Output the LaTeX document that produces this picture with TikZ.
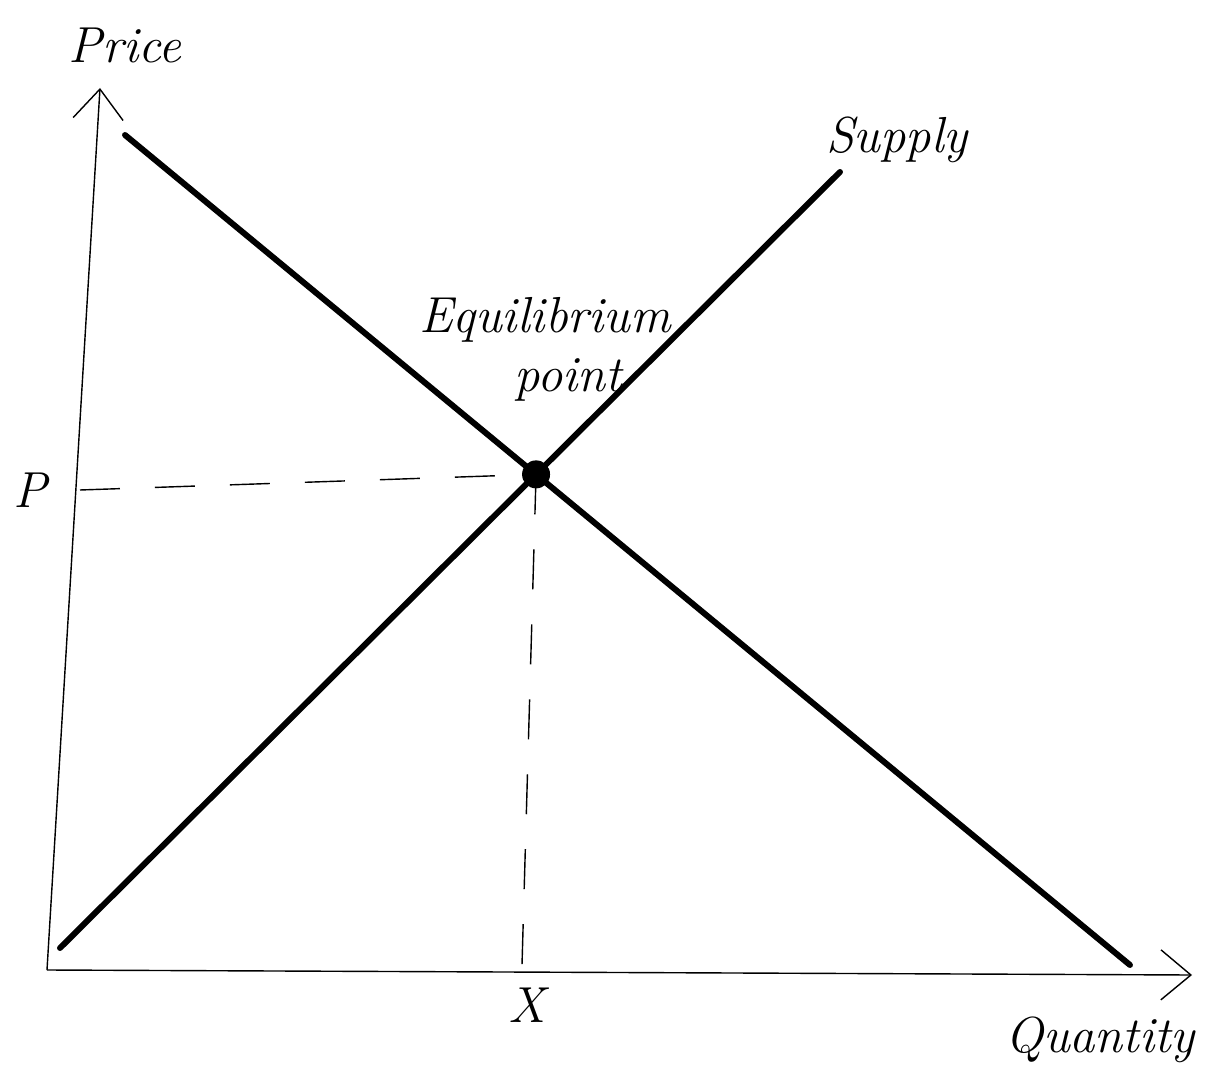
\documentclass[tikz,border=0pt]{standalone}
\usepackage{xcolor}
\usepackage{tikz}
\usetikzlibrary{arrows.meta,positioning,calc}

\begin{document}
\begin{tikzpicture}[
    every node/.style={font=\Large\itshape},
    axis/.style={-{Straight Barb[length=3mm,width=5mm]}, thin},
    curve/.style={line width=1.7pt, line cap=round},
    guide/.style={thin, dash pattern=on 4mm off 3.5mm},
    eqdot/.style={circle, fill=black, inner sep=0pt, minimum size=2.8mm}
]
  \useasboundingbox (0,0) rectangle (12.18,10.73);

  % axes
  \coordinate (o)    at (0.47, 1.03);
  \coordinate (ytop) at (1.00, 9.85);
  \coordinate (xend) at (11.92, 0.98);
  \draw[axis] (o) -- (ytop);
  \draw[axis] (o) -- (xend);

  % demand and supply
  \coordinate (d1) at (1.25, 9.38);
  \coordinate (d2) at (11.30, 1.08);
  \coordinate (s1) at (0.60, 1.25);
  \coordinate (s2) at (8.40, 9.01);
  \draw[curve] (d1) -- (d2);
  \draw[curve] (s1) -- (s2);

  \node[eqdot] (eq) at (intersection of d1--d2 and s1--s2) {};

  % guides to the axes
  \coordinate (py) at (0.80, 5.83);
  \coordinate (qx) at (5.22, 1.08);
  \draw[guide] (py) -- (eq.center);
  \draw[guide] (eq.center) -- (qx);

  % labels
  \node (plab)   at (0.30, 5.83) {P};
  \node (xlab)   at (5.27, 0.68) {X};
  \node (price)  at (1.25, 10.28) {Price};
  \node (supply) at (8.97, 9.33) {Supply};
  \node (eqlab)  at (5.45, 7.53) {Equilibrium};
  \node (eqpt)   at (5.68, 6.93) {point};
  \node (qty)    at (11.00, 0.33) {Quantity};
\end{tikzpicture}
\end{document}
